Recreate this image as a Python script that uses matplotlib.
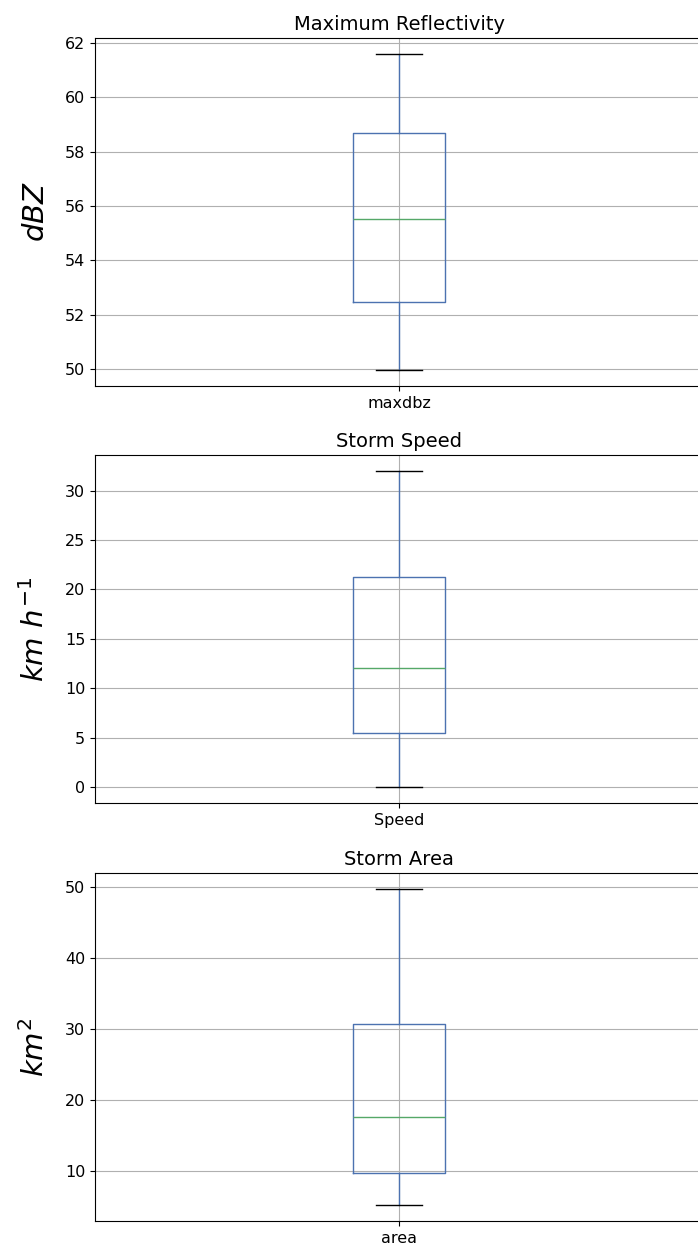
import matplotlib
matplotlib.use("Agg")
import matplotlib.pyplot as plt

# box statistics (whislo, q1, med, q3, whishi)
names = ['maxdbz', 'Speed', 'area']
titles = ['Maximum Reflectivity', 'Storm Speed', 'Storm Area']
ylabels = [r'$dBZ$', r'$km\ h^{-1}$', r'$km^{2}$']
whislo = [49.95, 0.0, 5.25]
q1 = [52.45, 5.5, 9.8]
med = [55.5, 12.1, 17.7]
q3 = [58.7, 21.3, 30.7]
whishi = [61.6, 32.0, 49.7]
yticks = [[50, 52, 54, 56, 58, 60, 62],
          [0, 5, 10, 15, 20, 25, 30],
          [10, 20, 30, 40, 50]]

blue = '#4C72B0'
green = '#55A868'

fig = plt.figure(figsize=(6.98, 12.53), dpi=100)
H = 1253.0
tops = [38, 455, 873]
axh = 348

for i in range(3):
    ax = fig.add_axes([95 / 698, 1 - (tops[i] + axh) / H, 608 / 698, axh / H])
    stats = [dict(label=names[i], whislo=whislo[i], q1=q1[i], med=med[i],
                  q3=q3[i], whishi=whishi[i], fliers=[])]
    ax.bxp(stats, positions=[1], widths=0.15, showfliers=False,
           boxprops=dict(color=blue), whiskerprops=dict(color=blue),
           capprops=dict(color='k'), medianprops=dict(color=green))
    ax.set_xlim(0.5, 1.5)
    ax.set_yticks(yticks[i])
    ax.grid(True)
    ax.set_title(titles[i], fontsize=14)
    ax.set_ylabel(ylabels[i], fontsize=21, labelpad=11)
    ax.tick_params(labelsize=11.5)

fig.savefig('out.png', dpi=100)
